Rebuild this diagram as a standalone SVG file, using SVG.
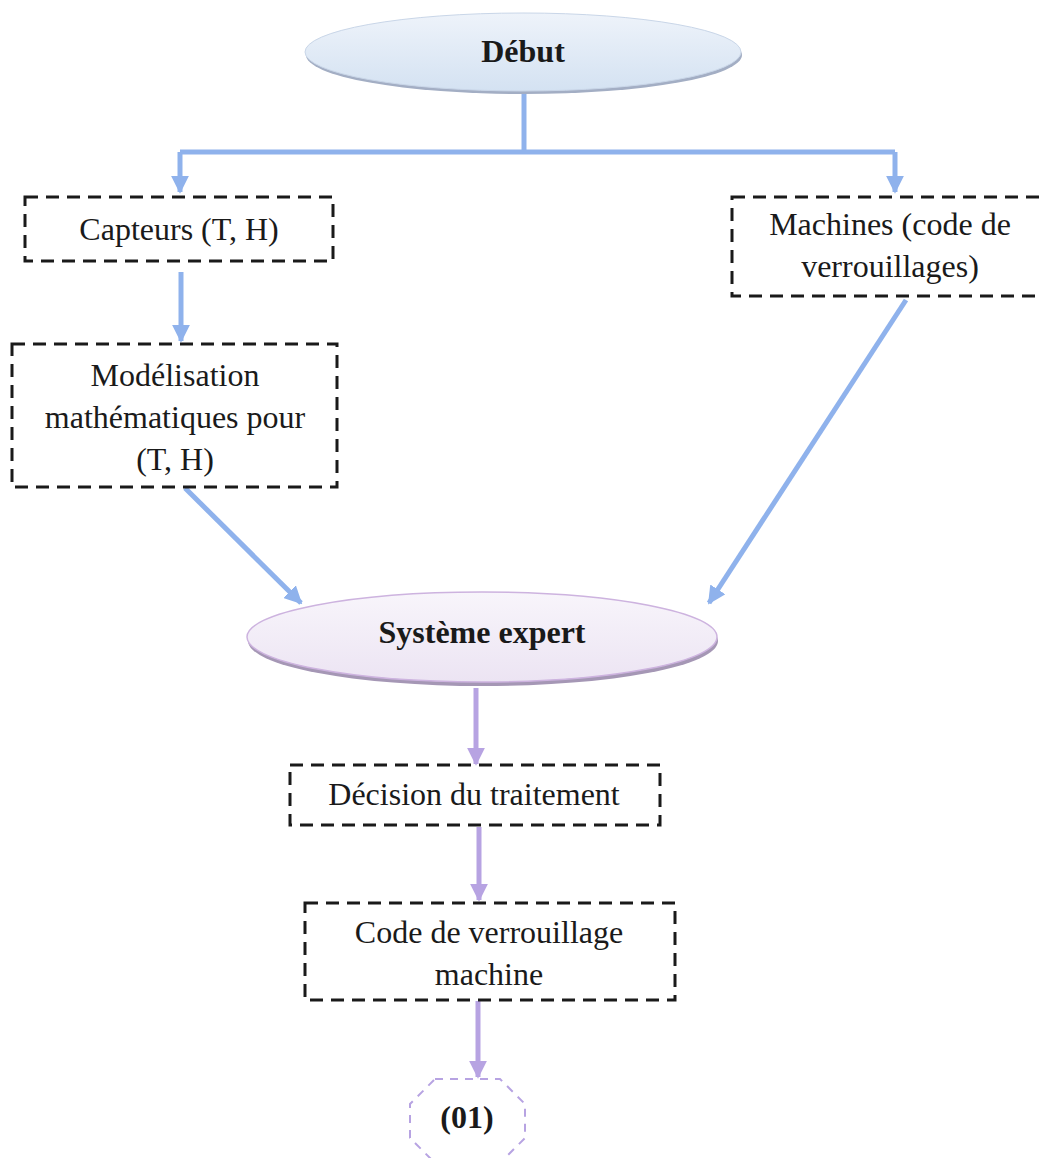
<svg xmlns="http://www.w3.org/2000/svg" width="1039" height="1158" viewBox="0 0 1039 1158">
  <style>
    .box { fill: none; stroke: #1a1a1a; stroke-width: 3; stroke-dasharray: 13 8; }
    .lbl { font-family: "Liberation Serif", "Times New Roman", serif; font-size: 32px; fill: #1a1a1a; text-anchor: middle; }
    .ttl { font-family: "Liberation Serif", "Times New Roman", serif; font-size: 32px; font-weight: bold; fill: #1a1a1a; text-anchor: middle; }
    .blue { fill: none; stroke: #8fb2ec; stroke-width: 5; }
    .lav { fill: none; stroke: #b7a3e2; stroke-width: 5; }
  </style>
  <defs>
    <linearGradient id="gBlue" x1="0" y1="0" x2="0" y2="1">
      <stop offset="0" stop-color="#eef3fa"/>
      <stop offset="1" stop-color="#d4e2f2"/>
    </linearGradient>
    <linearGradient id="gLav" x1="0" y1="0" x2="0" y2="1">
      <stop offset="0" stop-color="#f8f5fb"/>
      <stop offset="1" stop-color="#ece4f3"/>
    </linearGradient>
    <marker id="ahBlue" viewBox="0 0 10 10" refX="9" refY="5" markerWidth="3.6" markerHeight="3.6" markerUnits="strokeWidth" orient="auto">
      <path d="M0,0 L10,5 L0,10 z" fill="#8fb2ec"/>
    </marker>
    <marker id="ahLav" viewBox="0 0 10 10" refX="9" refY="5" markerWidth="3.6" markerHeight="3.6" markerUnits="strokeWidth" orient="auto">
      <path d="M0,0 L10,5 L0,10 z" fill="#b7a3e2"/>
    </marker>
  </defs>

  <rect width="1039" height="1158" fill="#ffffff"/>

  <!-- connectors -->
  <g id="connectors">
    <path class="blue" d="M524,92 V152"/>
    <path class="blue" d="M180,152 H895"/>
    <path class="blue" d="M180,152 V192" marker-end="url(#ahBlue)"/>
    <path class="blue" d="M895,152 V192" marker-end="url(#ahBlue)"/>
    <path class="blue" d="M181,272 V341" marker-end="url(#ahBlue)"/>
    <path class="blue" d="M185,488 L301,603" marker-end="url(#ahBlue)"/>
    <path class="blue" d="M906,300 L709,603" marker-end="url(#ahBlue)"/>
    <path class="lav" d="M476,688 V764" marker-end="url(#ahLav)"/>
    <path class="lav" d="M479,827 V900" marker-end="url(#ahLav)"/>
    <path class="lav" d="M478,1001 V1077" marker-end="url(#ahLav)"/>
  </g>

  <!-- start -->
  <g id="debut">
    <ellipse cx="524" cy="55" rx="218" ry="39" fill="#a3aec4"/>
    <ellipse cx="523" cy="52" rx="218" ry="39" fill="url(#gBlue)" stroke="#c9d6e8" stroke-width="1"/>
    <text class="ttl" x="523" y="62">Début</text>
  </g>

  <g id="capteurs">
    <rect class="box" x="25" y="197" width="308" height="64"/>
    <text class="lbl" x="179" y="240">Capteurs (T, H)</text>
  </g>

  <g id="modelisation">
    <rect class="box" x="12" y="344" width="325" height="143"/>
    <text class="lbl" x="175" y="386">Modélisation</text>
    <text class="lbl" x="175" y="428">mathématiques pour</text>
    <text class="lbl" x="175" y="470">(T, H)</text>
  </g>

  <g id="machines">
    <rect class="box" x="732" y="197" width="312" height="99"/>
    <text class="lbl" x="890" y="235">Machines (code de</text>
    <text class="lbl" x="890" y="277">verrouillages)</text>
  </g>

  <g id="systeme-expert">
    <ellipse cx="483" cy="641" rx="235" ry="45" fill="#a597b5"/>
    <ellipse cx="482" cy="637" rx="235" ry="45" fill="url(#gLav)" stroke="#cdb3df" stroke-width="1.5"/>
    <text class="ttl" x="482" y="643">Système expert</text>
  </g>

  <g id="decision">
    <rect class="box" x="290" y="765" width="370" height="60"/>
    <text class="lbl" x="474" y="805">Décision du traitement</text>
  </g>

  <g id="code-verrouillage">
    <rect class="box" x="305" y="903" width="370" height="97"/>
    <text class="lbl" x="489" y="943">Code de verrouillage</text>
    <text class="lbl" x="489" y="985">machine</text>
  </g>

  <g id="connecteur-01">
    <path d="M435,1079 H500 L525,1104 V1138 L500,1163 H435 L410,1138 V1104 Z" fill="none" stroke="#b7a3e2" stroke-width="2" stroke-dasharray="8 7"/>
    <text class="ttl" x="467" y="1128">(01)</text>
  </g>
</svg>
